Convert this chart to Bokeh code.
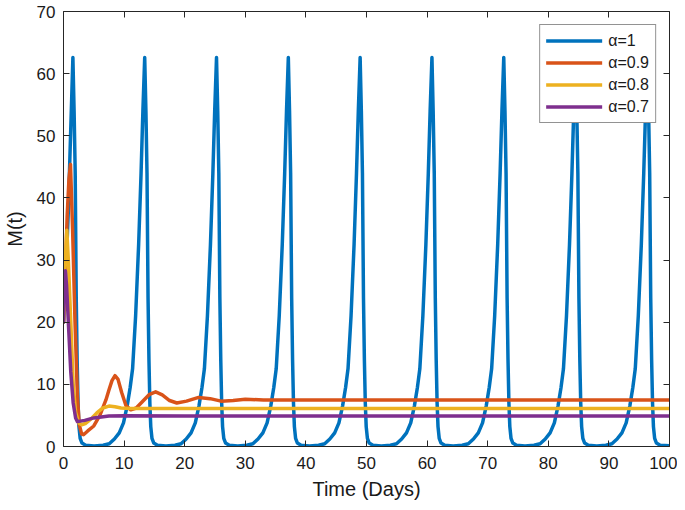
from bokeh.plotting import figure
from bokeh.models import LinearAxis, FixedTicker, Legend, LegendItem, Range1d
from bokeh.embed import file_html
from bokeh.resources import INLINE

# ---- data ----
x_ticks = [0, 10, 20, 30, 40, 50, 60, 70, 80, 90, 100]
y_ticks = [0, 10, 20, 30, 40, 50, 60, 70]
series_labels = ["α=1", "α=0.9", "α=0.8", "α=0.7"]

# alpha = 1 (periodic spikes)
blue_t = [0, 0.4, 0.8, 1.1, 1.35, 1.55, 1.75, 1.93, 2.1, 2.25, 2.4, 2.55, 2.75, 3.05, 3.65, 5.05, 6.55, 7.55,
          8.4, 9.2, 9.9, 10.5, 11.0, 11.4, 11.9, 12.4, 12.8, 13.1, 13.4, 13.6, 13.78, 13.95, 14.1, 14.25, 14.4, 14.6, 14.9, 15.5, 16.9, 18.4, 19.4,
          20.25, 21.05, 21.75, 22.35, 22.85, 23.25, 23.75, 24.25, 24.65, 24.95, 25.25, 25.45, 25.63, 25.8, 25.95, 26.1, 26.25, 26.45, 26.75, 27.35, 28.75, 30.25, 31.25,
          32.1, 32.9, 33.6, 34.2, 34.7, 35.1, 35.6, 36.1, 36.5, 36.8, 37.1, 37.3, 37.48, 37.65, 37.8, 37.95, 38.1, 38.3, 38.6, 39.2, 40.6, 42.1, 43.1,
          43.95, 44.75, 45.45, 46.05, 46.55, 46.95, 47.45, 47.95, 48.35, 48.65, 48.95, 49.15, 49.33, 49.5, 49.65, 49.8, 49.95, 50.15, 50.45, 51.05, 52.45, 53.95, 54.95,
          55.8, 56.6, 57.3, 57.9, 58.4, 58.8, 59.3, 59.8, 60.2, 60.5, 60.8, 61.0, 61.18, 61.35, 61.5, 61.65, 61.8, 62.0, 62.3, 62.9, 64.3, 65.8, 66.8,
          67.65, 68.45, 69.15, 69.75, 70.25, 70.65, 71.15, 71.65, 72.05, 72.35, 72.65, 72.85, 73.03, 73.2, 73.35, 73.5, 73.65, 73.85, 74.15, 74.75, 76.15, 77.65, 78.65,
          79.5, 80.3, 81.0, 81.6, 82.1, 82.5, 83.0, 83.5, 83.9, 84.2, 84.5, 84.7, 84.88, 85.05, 85.2, 85.35, 85.5, 85.7, 86.0, 86.6, 88.0, 89.5, 90.5,
          91.35, 92.15, 92.85, 93.45, 93.95, 94.35, 94.85, 95.35, 95.75, 96.05, 96.35, 96.55, 96.73, 96.9, 97.05, 97.2, 97.35, 97.55, 97.85, 98.45, 100]
blue_m = [20, 28, 38, 48, 56, 62.6, 54, 44, 24, 14, 7, 3.2, 1.3, 0.55, 0.2, 0.1, 0.2, 0.45,
          1.2, 2.2, 3.8, 6.5, 9.5, 12.5, 21, 32.5, 44, 54, 62.6, 54, 44, 24, 14, 7, 3.2, 1.3, 0.55, 0.2, 0.1, 0.2, 0.45,
          1.2, 2.2, 3.8, 6.5, 9.5, 12.5, 21, 32.5, 44, 54, 62.6, 54, 44, 24, 14, 7, 3.2, 1.3, 0.55, 0.2, 0.1, 0.2, 0.45,
          1.2, 2.2, 3.8, 6.5, 9.5, 12.5, 21, 32.5, 44, 54, 62.6, 54, 44, 24, 14, 7, 3.2, 1.3, 0.55, 0.2, 0.1, 0.2, 0.45,
          1.2, 2.2, 3.8, 6.5, 9.5, 12.5, 21, 32.5, 44, 54, 62.6, 54, 44, 24, 14, 7, 3.2, 1.3, 0.55, 0.2, 0.1, 0.2, 0.45,
          1.2, 2.2, 3.8, 6.5, 9.5, 12.5, 21, 32.5, 44, 54, 62.6, 54, 44, 24, 14, 7, 3.2, 1.3, 0.55, 0.2, 0.1, 0.2, 0.45,
          1.2, 2.2, 3.8, 6.5, 9.5, 12.5, 21, 32.5, 44, 54, 62.6, 54, 44, 24, 14, 7, 3.2, 1.3, 0.55, 0.2, 0.1, 0.2, 0.45,
          1.2, 2.2, 3.8, 6.5, 9.5, 12.5, 21, 32.5, 44, 54, 62.6, 54, 44, 24, 14, 7, 3.2, 1.3, 0.55, 0.2, 0.1, 0.2, 0.45,
          1.2, 2.2, 3.8, 6.5, 9.5, 12.5, 21, 32.5, 44, 54, 62.6, 54, 44, 24, 14, 7, 3.2, 1.3, 0.55, 0.2, 0.12]

# alpha = 0.9
orange_t = [0, 0.3, 0.6, 0.9, 1.15, 1.5, 1.9, 2.3, 2.6, 3.0, 3.3, 4.0, 5.0, 6.0, 7.0, 7.5, 8.0, 8.5, 9.0, 9.6, 10.3, 11.1,
            12.0, 13.0, 14.2, 15.2, 16.3, 17.5, 18.7, 20.3, 22.3, 24.2, 26.0, 28.0, 30.0, 33.0, 40.0, 100]
orange_m = [20, 28, 37, 43, 45.4, 35, 20, 8, 3.5, 2.0, 1.9, 2.5, 3.3, 5.0, 7.5, 9.1, 10.6, 11.4, 10.8, 8.7, 6.6, 5.9,
            6.2, 7.2, 8.4, 8.8, 8.3, 7.4, 7.0, 7.3, 7.9, 7.7, 7.3, 7.4, 7.6, 7.5, 7.5, 7.5]

# alpha = 0.8
yellow_t = [0, 0.2, 0.55, 0.8, 1.2, 1.6, 2.0, 2.5, 3.0, 3.6, 4.5, 5.5, 6.5, 7.5, 8.5, 9.5, 11.0, 13.0, 20.0, 100]
yellow_m = [20, 28, 34.8, 30, 20, 10, 5.5, 3.8, 3.5, 3.7, 4.4, 5.4, 6.2, 6.5, 6.4, 6.2, 6.1, 6.1, 6.1, 6.1]

# alpha = 0.7
purple_t = [0, 0.1, 0.3, 0.5, 0.8, 1.2, 1.6, 2.0, 2.3, 3.5, 5.0, 7.5, 10.0, 20.0, 100]
purple_m = [20, 25, 28.3, 26, 20, 12, 7, 4.6, 4.0, 4.2, 4.6, 4.9, 4.95, 4.9, 4.9]

colors = ["#0072BD", "#D95319", "#EDB120", "#7E2F8E"]

FONT = "Liberation Sans"
AX = "#262626"

p = figure(width=677, height=502, x_range=Range1d(0, 100), y_range=Range1d(0, 70),
           output_backend="svg", toolbar_location=None,
           min_border_left=10, min_border_right=8, min_border_top=11, min_border_bottom=6)
p.outline_line_color = None
p.xgrid.visible = False
p.ygrid.visible = False
p.background_fill_color = "white"


def style_axis(ax, ticks, show_labels=True):
    ax.ticker = FixedTicker(ticks=ticks)
    ax.axis_line_color = AX
    ax.axis_line_width = 1
    ax.major_tick_line_color = AX
    ax.major_tick_in = 6
    ax.major_tick_out = 0
    ax.minor_tick_line_color = None
    ax.major_label_text_font = FONT
    ax.axis_label_text_font = FONT
    ax.axis_label_text_font_style = "normal"
    ax.axis_label_text_color = "#1a1a1a"
    if show_labels:
        ax.major_label_text_color = "#1a1a1a"
        ax.major_label_text_font_size = "17px"
        ax.axis_label_text_font_size = "20px"
    else:
        ax.major_label_text_color = None
        ax.major_label_text_font_size = "1px"
        ax.major_label_standoff = 0


style_axis(p.xaxis[0], x_ticks)
style_axis(p.yaxis[0], y_ticks)
p.xaxis[0].axis_label = "Time (Days)"
p.yaxis[0].axis_label = "M(t)"
p.xaxis[0].major_label_standoff = 10
p.yaxis[0].major_label_standoff = 8
p.xaxis[0].axis_label_standoff = 6
p.yaxis[0].axis_label_standoff = 8

right_ax = LinearAxis()
style_axis(right_ax, y_ticks, show_labels=False)
p.add_layout(right_ax, "right")
top_ax = LinearAxis()
style_axis(top_ax, x_ticks, show_labels=False)
p.add_layout(top_ax, "above")

rs = []
for t, m, c in zip([blue_t, orange_t, yellow_t, purple_t],
                   [blue_m, orange_m, yellow_m, purple_m], colors):
    r = p.line(t, m, line_color=c, line_width=3.5, line_join="round", line_cap="round")
    rs.append(r)

legend = Legend(items=[LegendItem(label=lab, renderers=[r]) for lab, r in zip(series_labels, rs)],
                location="top_right")
legend.border_line_color = AX
legend.border_line_width = 1
legend.background_fill_color = "white"
legend.background_fill_alpha = 1
legend.label_text_font = FONT
legend.label_text_font_size = "16px"
legend.label_text_color = "#1a1a1a"
legend.glyph_width = 56
legend.glyph_height = 19
legend.label_height = 19
legend.spacing = 3
legend.padding = 6
legend.margin = 13
legend.label_standoff = 6
p.add_layout(legend)

open("out.html", "w").write(file_html(p, INLINE))
